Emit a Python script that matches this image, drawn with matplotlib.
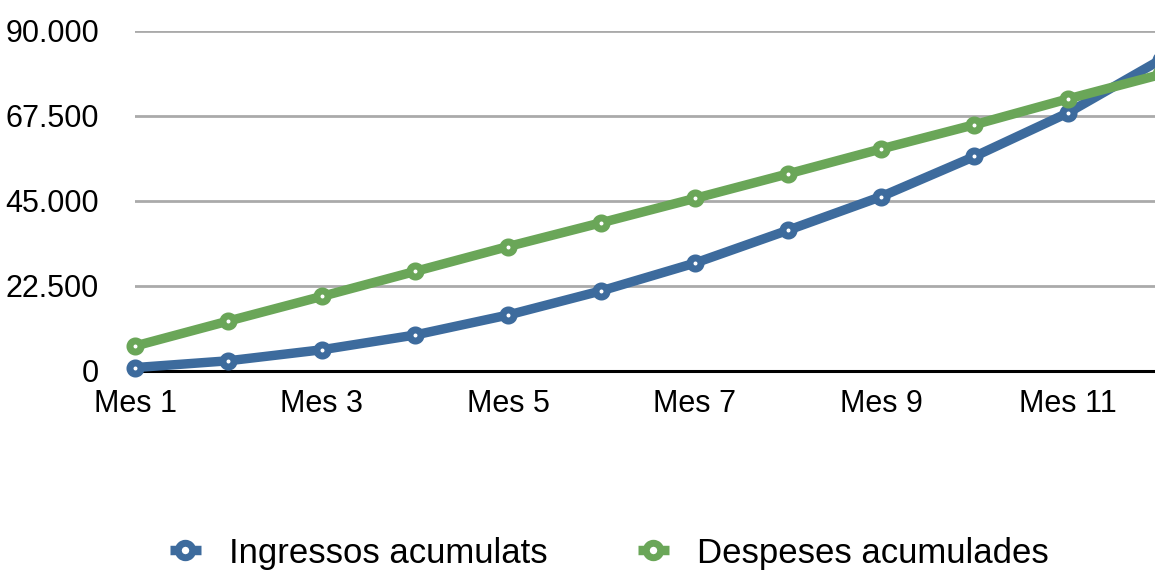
import matplotlib.pyplot as plt
from matplotlib.ticker import FuncFormatter

plt.rcParams['font.family'] = ['Liberation Sans', 'DejaVu Sans']

# monthly accumulated figures
months = list(range(1, 13))
ingressos = [900, 2700, 5600, 9500, 14800, 21200, 28500, 37200, 46100, 56700, 68200, 82300]
despeses = [6600, 13200, 19700, 26300, 32900, 39200, 45600, 52100, 58700, 65100, 71900, 78400]
tick_months = [1, 3, 5, 7, 9, 11]
tick_labels = ["Mes %d" % m for m in tick_months]
y_ticks = [0, 22500, 45000, 67500, 90000]

blue = '#3d6b9d'
green = '#6aa658'

fig = plt.figure(figsize=(11.55, 5.70), dpi=100)
# axes run a little past the right edge, so the last month gets cut off
ax = fig.add_axes([135 / 1155, 1 - 371 / 570, 1026 / 1155, 340.5 / 570])

for vals, col, name in [(ingressos, blue, 'Ingressos acumulats'),
                        (despeses, green, 'Despeses acumulades')]:
    ax.plot(months, vals, color=col, lw=6.8, marker='o', ms=8,
            mfc='white', mec=col, mew=5, label=name, clip_on=False,
            solid_capstyle='butt')

ax.set_xlim(1, 12)
ax.set_ylim(0, 90000)
ax.set_yticks(y_ticks)
ax.yaxis.set_major_formatter(FuncFormatter(lambda v, p: f"{int(v):,}".replace(',', '.')))
ax.set_xticks(tick_months)
ax.set_xticklabels(tick_labels)
ax.tick_params(axis='both', length=0, labelsize=22, colors='black')
ax.tick_params(axis='y', pad=26)
ax.tick_params(axis='x', pad=13)

ax.grid(axis='y', color='#aaaaaa', lw=2)
ax.set_axisbelow(True)
for s in ['top', 'right', 'left']:
    ax.spines[s].set_visible(False)
ax.spines['bottom'].set_color('black')
ax.spines['bottom'].set_linewidth(2.2)
ax.spines['bottom'].set_zorder(1)

handles, labels = ax.get_legend_handles_labels()
fig.legend(handles, labels, loc='center', bbox_to_anchor=(609 / 1155, 1 - 553 / 570),
           ncol=2, frameon=False, fontsize=25, handlelength=0.9, handletextpad=0.8,
           columnspacing=2.6, markerscale=1.3)

fig.savefig('out.png', dpi=100)
